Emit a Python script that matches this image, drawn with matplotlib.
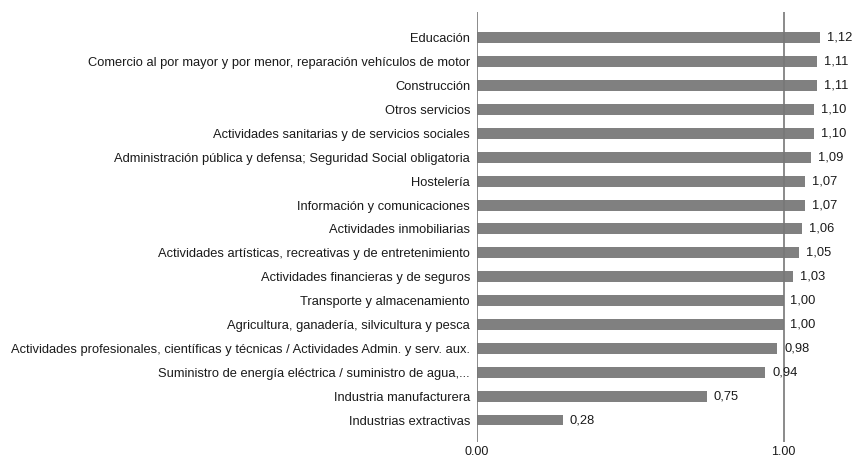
import matplotlib.pyplot as plt
import numpy as np

sectores = [
    "Educación",
    "Comercio al por mayor y por menor, reparación vehículos de motor",
    "Construcción",
    "Otros servicios",
    "Actividades sanitarias y de servicios sociales",
    "Administración pública y defensa; Seguridad Social obligatoria",
    "Hostelería",
    "Información y comunicaciones",
    "Actividades inmobiliarias",
    "Actividades artísticas, recreativas y de entretenimiento",
    "Actividades financieras y de seguros",
    "Transporte y almacenamiento",
    "Agricultura, ganadería, silvicultura y pesca",
    "Actividades profesionales, científicas y técnicas / Actividades Admin. y serv. aux.",
    "Suministro de energía eléctrica / suministro de agua,...",
    "Industria manufacturera",
    "Industrias extractivas",
]
valores = [1.12, 1.11, 1.11, 1.10, 1.10, 1.09, 1.07, 1.07, 1.06, 1.05,
           1.03, 1.00, 1.00, 0.98, 0.94, 0.75, 0.28]
xticks = [0.0, 1.0]

plt.rcParams['font.family'] = ['Liberation Sans', 'DejaVu Sans']

fig = plt.figure(figsize=(8.52, 4.58), dpi=100)
ax = fig.add_axes([0.5598, 0.035, 0.4318, 0.939])

n = len(valores)
y = np.arange(n)[::-1]
ax.barh(y, valores, height=0.46, color='#808080', zorder=2)

for yi, v in zip(y, valores):
    ax.annotate('{:.2f}'.format(v).replace('.', ','), (v, yi), xytext=(5, 0),
                textcoords='offset points', va='center', ha='left', fontsize=9.3,
                color='#1a1a1a', zorder=4)

ax.axvline(1.0, color='#777777', lw=1.2, zorder=3)
ax.axvline(0.0, color='#777777', lw=1.2, zorder=3)

ax.set_xlim(0, 1.2)
ax.set_ylim(-0.92, n - 1 + 1.09)
ax.set_yticks(y)
ax.set_yticklabels(sectores, fontsize=9.3, color='#1a1a1a')
ax.set_xticks(xticks)
ax.set_xticklabels(['{:.2f}'.format(t) for t in xticks], fontsize=9, color='#1a1a1a')
ax.tick_params(axis='both', length=0)
ax.tick_params(axis='y', pad=5)
ax.tick_params(axis='x', pad=3)
for s in ax.spines.values():
    s.set_visible(False)

fig.savefig('out.png', dpi=100)
